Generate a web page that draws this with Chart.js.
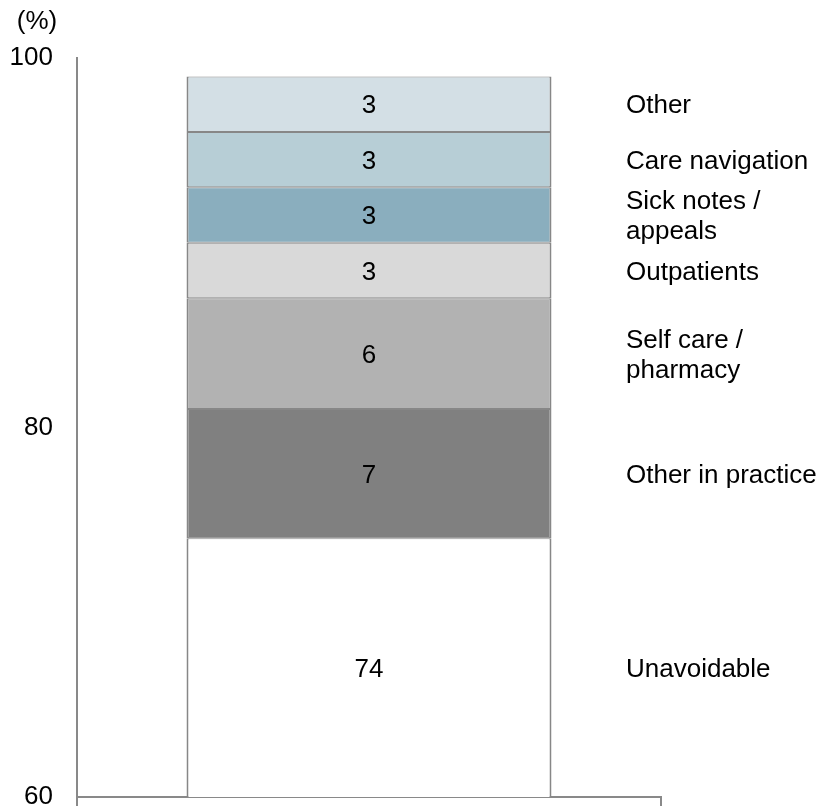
<!DOCTYPE html>
<html>
<head>
<meta charset="utf-8">
<script src="https://cdn.jsdelivr.net/npm/chart.js@4/dist/chart.umd.min.js"></script>
<style>
  html, body { margin: 0; padding: 0; background: #ffffff; overflow: hidden; }
  canvas { display: block; }
</style>
</head>
<body>
<canvas id="c" width="820" height="809"></canvas>
<script>
// Breakdown of appointments (%), stacked bottom to top
const categories = ['Unavoidable', 'Other in practice', 'Self care / pharmacy', 'Outpatients', 'Sick notes / appeals', 'Care navigation', 'Other'];
const sideLabels = [['Unavoidable'], ['Other in practice'], ['Self care /', 'pharmacy'], ['Outpatients'], ['Sick notes /', 'appeals'], ['Care navigation'], ['Other']];
const shares = [74, 7, 6, 3, 3, 3, 3];
const fills = ['#ffffff', '#808080', '#b2b2b2', '#d9d9d9', '#8aaebe', '#b7ced6', '#d3dfe5'];
const yTicks = [60, 80, 100];

const FONT = '"Liberation Sans", Arial, sans-serif';
const FONT_SIZE = 26;
const AXIS_GREY = '#898989';

const datasets = categories.map((name, i) => ({
  label: name,
  data: [shares[i]],
  backgroundColor: fills[i],
  borderColor: '#878787',
  borderWidth: { left: 2, right: 2, top: 1, bottom: 1 },
  borderSkipped: false,
  barPercentage: 0.625,
  categoryPercentage: 1
}));

// Segment midpoints (in value units), clipped to the visible axis range
function segmentMid(i, yScale) {
  let start = 0;
  for (let k = 0; k < i; k++) start += shares[k];
  const end = start + shares[i];
  const lo = Math.max(start, yScale.min);
  const hi = Math.min(end, yScale.max);
  return yScale.getPixelForValue((lo + hi) / 2);
}

const labelPlugin = {
  id: 'segmentLabels',
  afterDatasetsDraw(chart) {
    const ctx = chart.ctx;
    const y = chart.scales.y;
    ctx.save();
    ctx.font = FONT_SIZE + 'px ' + FONT;
    ctx.fillStyle = '#000000';
    ctx.textBaseline = 'middle';
    categories.forEach((_, i) => {
      const bar = chart.getDatasetMeta(i).data[0];
      const cy = segmentMid(i, y) + 2;
      // value inside the segment
      ctx.textAlign = 'center';
      ctx.fillText(String(shares[i]), bar.x, cy);
      // category name to the right of the plot
      ctx.textAlign = 'left';
      const lines = sideLabels[i];
      const lh = 30;
      const top = cy - (lines.length - 1) * lh / 2;
      lines.forEach((t, j) => ctx.fillText(t, chart.chartArea.right - 35, top + j * lh));
    });
    // unit label above the value axis
    ctx.textAlign = 'center';
    ctx.fillText('(%)', 37, 22);
    ctx.restore();
  }
};

new Chart(document.getElementById('c'), {
  type: 'bar',
  data: { labels: [''], datasets },
  options: {
    responsive: false,
    animation: false,
    layout: { padding: { top: 58, right: 159, bottom: 0, left: 0 } },
    plugins: { legend: { display: false }, tooltip: { enabled: false } },
    scales: {
      x: {
        stacked: true,
        z: 1,
        offset: true,
        ticks: { display: false },
        grid: { offset: true, drawOnChartArea: false, drawTicks: true, tickLength: 9, color: AXIS_GREY, lineWidth: 2 },
        border: { display: true, color: AXIS_GREY, width: 2 },
        afterFit(s) { s.height = 12; }
      },
      y: {
        stacked: true,
        z: 1,
        min: 60,
        max: 100,
        afterBuildTicks(s) { s.ticks = yTicks.map(v => ({ value: v })); },
        ticks: { color: '#000000', font: { family: FONT, size: FONT_SIZE }, padding: 0 },
        // tick marks are hidden; their length only spaces the labels from the axis line
        grid: { display: false, drawTicks: true, tickLength: 24 },
        border: { display: true, color: AXIS_GREY, width: 2 },
        afterFit(s) { s.width = 77; s.paddingTop = 0; s.paddingBottom = 0; }
      }
    }
  },
  plugins: [labelPlugin]
});
</script>
</body>
</html>
